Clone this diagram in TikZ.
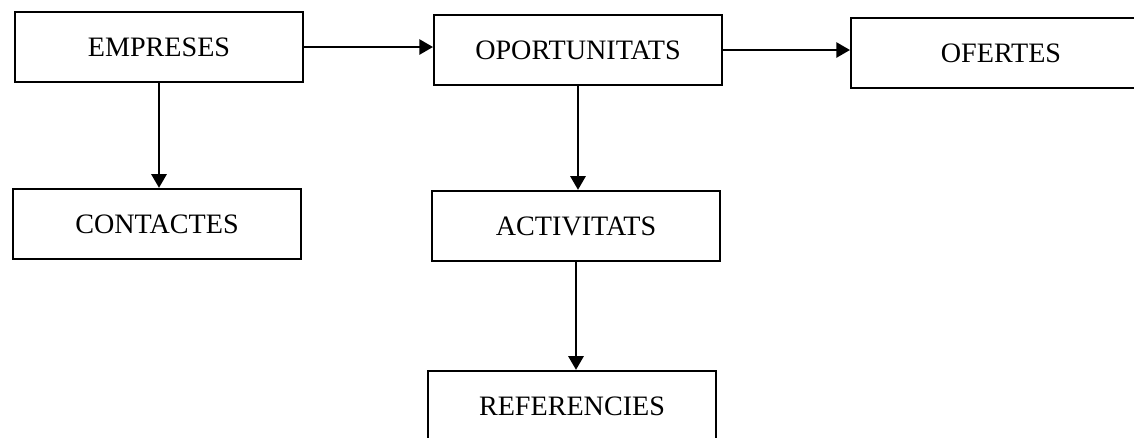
\documentclass[tikz,border=0pt]{standalone}
\usepackage{fontspec}
\setmainfont{Liberation Serif}
\usetikzlibrary{arrows.meta}
\tikzset{
  taula/.style={draw, line width=1.4pt, minimum width=7.2cm, minimum height=1.76cm,
    inner sep=0pt, font=\fontsize{20}{24}\selectfont},
  fletxa/.style={line width=1.4pt, -{Triangle[length=3.4mm,width=3.8mm]}}
}
\begin{document}
\begin{tikzpicture}[x=0.025cm, y=-0.025cm]
\useasboundingbox (0,0) rectangle (1134,437);
\node[taula] (empreses) at (159,47) {EMPRESES};
\node[taula] (oportunitats) at (578,50) {OPORTUNITATS};
\node[taula, minimum width=7.5cm] (ofertes) at (1001,53) {OFERTES};
\node[taula] (contactes) at (157,224) {CONTACTES};
\node[taula] (activitats) at (576,226) {ACTIVITATS};
\node[taula] (referencies) at (572,406) {REFERENCIES};
% fletxes
\draw[fletxa] (empreses.east) -- (empreses.east -| oportunitats.west);
\draw[fletxa] (oportunitats.east) -- (oportunitats.east -| ofertes.west);
\draw[fletxa] (empreses.south) -- (empreses.south |- contactes.north);
\draw[fletxa] (oportunitats.south) -- (oportunitats.south |- activitats.north);
\draw[fletxa] (activitats.south) -- (activitats.south |- referencies.north);
\end{tikzpicture}
\end{document}
